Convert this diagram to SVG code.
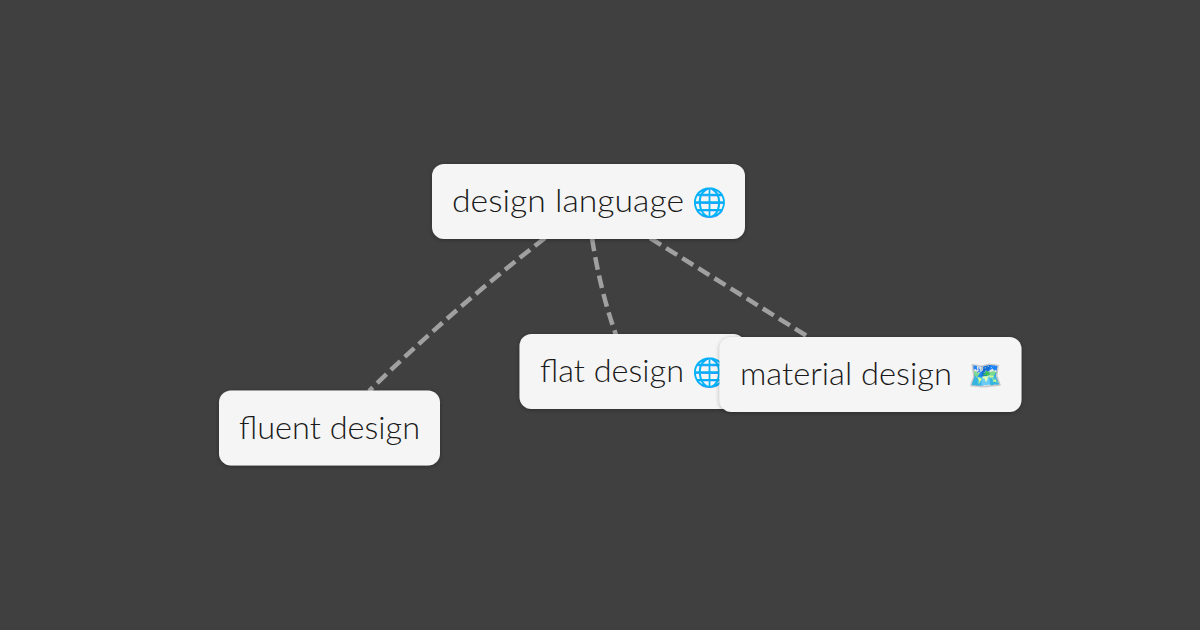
<svg xmlns="http://www.w3.org/2000/svg" width="1200" height="630" viewBox="0 0 1200 630">
<style>
.box{fill:#f5f5f5;filter:url(#sh)}
.lbl{font-family:"Lato","Liberation Sans",sans-serif;font-weight:300;font-size:31px;fill:#1a1a1a}
.emo{font-family:"Noto Color Emoji","DejaVu Sans",sans-serif;font-size:28px}
.con{fill:none;stroke:#a0a0a0;stroke-width:4.500;stroke-dasharray:13 6}
</style>
<defs><filter id="sh" x="-10%" y="-20%" width="120%" height="140%"><feDropShadow dx="0" dy="1" stdDeviation="2" flood-color="#000" flood-opacity="0.3"/></filter></defs>
<rect width="1200" height="630" fill="#404040"/>
<g id="connectors">
<path class="con" d="M545 238Q453 309 369 391"/>
<path class="con" d="M592 238Q600 290 616 335"/>
<path class="con" d="M650 238Q730 288 810 338"/>
</g>
<g id="node-design-language"><rect class="box" x="432" y="164" width="313" height="75" rx="12"/><text class="lbl" x="452" y="212" textLength="232" lengthAdjust="spacingAndGlyphs">design language</text><text class="emo" x="692" y="212">🌐</text></g>
<g id="node-fluent-design"><rect class="box" x="219" y="390.500" width="221" height="75" rx="12"/><text class="lbl" x="239" y="439" textLength="181" lengthAdjust="spacingAndGlyphs">fluent design</text></g>
<g id="node-flat-design"><rect class="box" x="519.500" y="334" width="226" height="75" rx="12"/><text class="lbl" x="540" y="382" textLength="144" lengthAdjust="spacingAndGlyphs">flat design</text><text class="emo" x="692" y="382">🌐</text></g>
<g id="node-material-design"><rect class="box" x="719.500" y="337" width="302" height="75" rx="12"/><text class="lbl" x="740" y="385" textLength="212" lengthAdjust="spacingAndGlyphs">material design</text><text class="emo" x="968" y="385">🗺️</text></g>
</svg>
